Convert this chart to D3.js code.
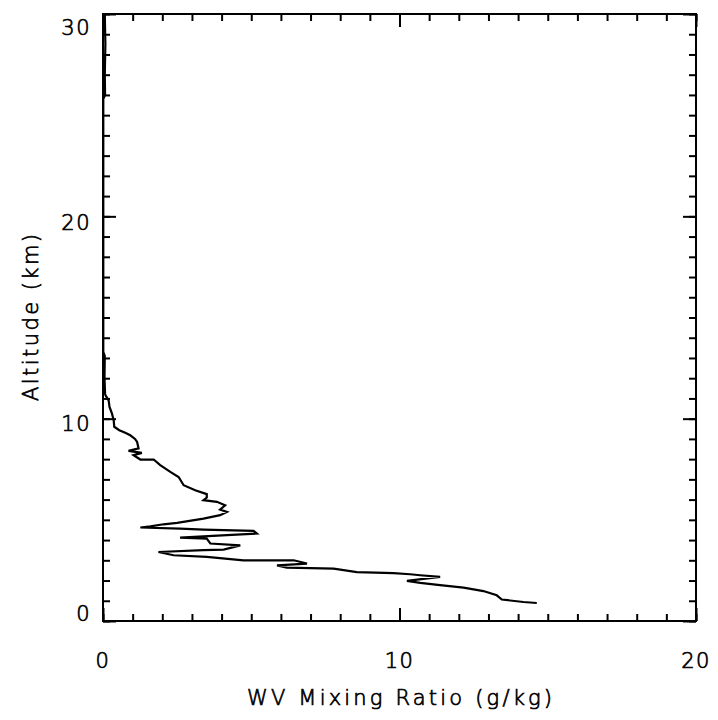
<!DOCTYPE html>
<html>
<head>
<meta charset="utf-8">
<script src="https://cdn.jsdelivr.net/npm/d3@7"></script>
<style>
  html, body { margin: 0; padding: 0; background: #fff; }
  svg { display: block; }
  text { font-family: "DejaVu Sans", sans-serif; font-weight: 200; fill: #000; stroke: #000; stroke-width: 0.7px; }
</style>
</head>
<body>
<svg id="chart" width="718" height="720"></svg>
<script>
// ---- data ----
const altitudeKm = [
  30.0, 28.5, 27.0, 26.0, 25.8, 20.0, 13.3, 13.1, 12.0, 11.25,
  11.16, 10.9, 10.58, 10.26, 9.93, 9.6, 9.43, 9.3, 9.18, 9.0,
  8.85, 8.53, 8.41, 8.31, 8.2, 7.98, 7.98, 7.7, 7.37, 7.12,
  6.71, 6.46, 6.27, 6.1, 5.97, 5.89, 5.72, 5.51, 5.39, 5.23,
  5.06, 4.85, 4.78, 4.68, 4.62, 4.57, 4.52, 4.45, 4.32, 4.24,
  4.12, 4.07, 3.83, 3.74, 3.53, 3.5, 3.41, 3.25, 3.17, 3.0,
  3.0, 3.0, 2.84, 2.75, 2.64, 2.59, 2.42, 2.37, 2.31, 2.26,
  2.18, 1.98, 1.88, 1.77, 1.65, 1.48, 1.27, 1.06, 0.94, 0.89
];
const mixingRatio = [
  0.06, 0.08, 0.06, 0.07, 0.01, 0.01, 0.01, 0.06, 0.05, 0.07,
  0.08, 0.19, 0.22, 0.30, 0.36, 0.38, 0.55, 0.75, 0.92, 1.08,
  1.15, 1.20, 0.86, 1.31, 1.03, 1.26, 1.71, 1.93, 2.27, 2.55,
  2.72, 3.11, 3.50, 3.50, 3.39, 3.84, 4.12, 3.95, 4.18, 3.95,
  3.39, 2.50, 2.04, 1.60, 1.26, 2.60, 3.39, 5.08, 5.19, 4.18,
  2.60, 3.50, 3.62, 4.63, 4.07, 3.39, 1.87, 2.38, 3.50, 4.74,
  5.30, 6.43, 6.88, 5.87, 6.20, 7.78, 8.56, 9.80, 10.36, 10.70,
  11.37, 10.25, 10.70, 11.37, 12.16, 12.83, 13.28, 13.45, 14.18, 14.63
];
const xMajorTicks = [0, 10, 20];
const xMinorTicks = d3.range(0, 21, 1);
const yMajorTicks = [0, 10, 20, 30];
const yMinorTicks = d3.range(0, 31, 1);
const xTitle = "WV Mixing Ratio (g/kg)";
const yTitle = "Altitude (km)";

// ---- layout ----
const pL = 103, pR = 696, pT = 14, pB = 621;
const svg = d3.select("#chart");
const x = d3.scaleLinear().domain([0, 20]).range([pL, pR]);
const y = d3.scaleLinear().domain([0, 30]).range([pB, pT]);

const MAJ = 13, MIN = 7;

function styleAxis(g) {
  g.select(".domain").remove();
  g.selectAll(".tick line").attr("stroke", "#000").attr("stroke-width", 2);
  g.selectAll(".tick text").remove();
}

// minor + major ticks on all 4 sides (inward)
svg.append("g").attr("transform", `translate(0,${pB})`)
  .call(d3.axisBottom(x).tickValues(xMinorTicks).tickSize(-MIN)).call(styleAxis);
svg.append("g").attr("transform", `translate(0,${pB})`)
  .call(d3.axisBottom(x).tickValues(xMajorTicks).tickSize(-MAJ)).call(styleAxis);
svg.append("g").attr("transform", `translate(0,${pT})`)
  .call(d3.axisTop(x).tickValues(xMinorTicks).tickSize(-MIN)).call(styleAxis);
svg.append("g").attr("transform", `translate(0,${pT})`)
  .call(d3.axisTop(x).tickValues(xMajorTicks).tickSize(-MAJ)).call(styleAxis);
svg.append("g").attr("transform", `translate(${pL},0)`)
  .call(d3.axisLeft(y).tickValues(yMinorTicks).tickSize(-MIN)).call(styleAxis);
svg.append("g").attr("transform", `translate(${pL},0)`)
  .call(d3.axisLeft(y).tickValues(yMajorTicks).tickSize(-MAJ)).call(styleAxis);
svg.append("g").attr("transform", `translate(${pR},0)`)
  .call(d3.axisRight(y).tickValues(yMinorTicks).tickSize(-MIN)).call(styleAxis);
svg.append("g").attr("transform", `translate(${pR},0)`)
  .call(d3.axisRight(y).tickValues(yMajorTicks).tickSize(-MAJ)).call(styleAxis);

// frame
svg.append("rect")
  .attr("x", pL).attr("y", pT)
  .attr("width", pR - pL).attr("height", pB - pT)
  .attr("fill", "none").attr("stroke", "#000").attr("stroke-width", 2);

// data line
const pts = altitudeKm.map((a, i) => [mixingRatio[i], a]);
svg.append("path")
  .datum(pts)
  .attr("fill", "none")
  .attr("stroke", "#000")
  .attr("stroke-width", 2.2)
  .attr("stroke-linejoin", "miter")
  .attr("d", d3.line().x(d => x(d[0])).y(d => y(d[1])));

// tick labels
svg.append("g").selectAll("text").data(xMajorTicks).join("text")
  .attr("x", d => x(d)).attr("y", 668)
  .attr("text-anchor", "middle")
  .attr("font-size", 21).attr("letter-spacing", 1.5)
  .text(d => d);

const yLabelOffset = {0: 0, 10: 12.5, 20: 13.5, 30: 20.5};
svg.append("g").selectAll("text").data(yMajorTicks).join("text")
  .attr("x", 91).attr("y", d => y(d) + yLabelOffset[d])
  .attr("text-anchor", "end")
  .attr("font-size", 21).attr("letter-spacing", 1.5)
  .text(d => d);

// axis titles
svg.append("text")
  .attr("x", (pL + pR) / 2).attr("y", 705)
  .attr("text-anchor", "middle")
  .attr("font-size", 21)
  .attr("textLength", 305).attr("lengthAdjust", "spacing")
  .text(xTitle);

svg.append("text")
  .attr("transform", `translate(38,${(pT + pB) / 2}) rotate(-90)`)
  .attr("text-anchor", "middle")
  .attr("font-size", 21)
  .attr("textLength", 167).attr("lengthAdjust", "spacing")
  .text(yTitle);
</script>
</body>
</html>
